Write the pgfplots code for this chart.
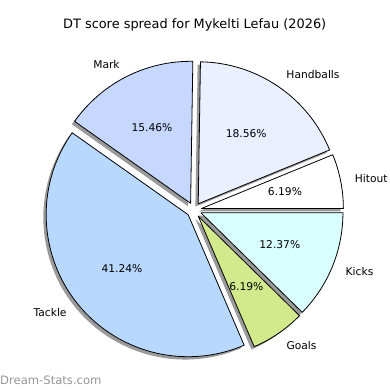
\documentclass[border=0pt]{standalone}
\usepackage{fontspec}
\setmainfont{DejaVu Sans}
\usepackage{pgfplots}
\pgfplotsset{compat=1.18}
\definecolor{cHit}{HTML}{FFFFFF}
\definecolor{cHand}{HTML}{EAF0FF}
\definecolor{cMark}{HTML}{C6D8FF}
\definecolor{cTack}{HTML}{B8D8FF}
\definecolor{cGoal}{HTML}{D2EA8C}
\definecolor{cKick}{HTML}{D9FFFF}
\definecolor{shad}{HTML}{9A9A9A}
\definecolor{wm}{HTML}{969696}
\def\cx{194}\def\cy{180}
\def\R{142}\def\E{7.5}\def\S{2.84}
\newcommand\lbl{\fontsize{10.7bp}{12.8bp}\selectfont}
\begin{document}
\begin{tikzpicture}
\begin{axis}[x=1bp,y=1bp,xmin=0,xmax=390,ymin=0,ymax=390,hide axis,clip=false,anchor=origin,at={(0,0)}]
\path (axis cs:0,0) rectangle (axis cs:390,390);
% shadows
\gdef\cum{0}
\foreach \lab/\pct/\col in {Hitout/6.19/cHit, Handballs/18.56/cHand, Mark/15.46/cMark, Tackle/41.24/cTack, Goals/6.19/cGoal, Kicks/12.37/cKick}{
  \pgfmathsetmacro\s{\cum}
  \pgfmathsetmacro\e{\cum+3.6*\pct}
  \xdef\cum{\e}
  \pgfmathsetmacro\m{(\s+\e)/2}
  \pgfmathsetmacro\X{\cx+\E*cos(\m)-\S}
  \pgfmathsetmacro\Y{\cy+\E*sin(\m)-\S}
  \edef\doit{\noexpand\fill[shad] (axis cs:\X,\Y) -- ++(\s:\R bp) arc[start angle=\s,end angle=\e,radius=\R bp] -- cycle;}
  \doit
}
% wedges
\gdef\cum{0}
\foreach \lab/\pct/\col in {Hitout/6.19/cHit, Handballs/18.56/cHand, Mark/15.46/cMark, Tackle/41.24/cTack, Goals/6.19/cGoal, Kicks/12.37/cKick}{
  \pgfmathsetmacro\s{\cum}
  \pgfmathsetmacro\e{\cum+3.6*\pct}
  \xdef\cum{\e}
  \pgfmathsetmacro\m{(\s+\e)/2}
  \pgfmathsetmacro\X{\cx+\E*cos(\m)}
  \pgfmathsetmacro\Y{\cy+\E*sin(\m)}
  \pgfmathsetmacro\LX{\X+1.1*\R*cos(\m)}
  \pgfmathsetmacro\LY{\Y+1.1*\R*sin(\m)}
  \pgfmathsetmacro\PX{\X+0.6*\R*cos(\m)}
  \pgfmathsetmacro\PY{\Y+0.6*\R*sin(\m)}
  \pgfmathtruncatemacro\isright{cos(\m)>0}
  \ifnum\isright=1 \def\anc{west}\else\def\anc{east}\fi
  \edef\doit{\noexpand\filldraw[fill=\col,draw=black,line width=0.8bp,line join=round] (axis cs:\X,\Y) -- ++(\s:\R bp) arc[start angle=\s,end angle=\e,radius=\R bp] -- cycle;
    \noexpand\node[anchor=\anc,inner sep=0pt,font=\noexpand\lbl] at (axis cs:\LX,\LY) {\lab};
    \noexpand\node[anchor=center,inner sep=0pt,font=\noexpand\lbl] at (axis cs:\PX,\PY) {\pct\%};}
  \doit
}
\node[font=\fontsize{12.9bp}{15bp}\selectfont,inner sep=0pt] at (axis cs:194.7,365) {DT score spread for Mykelti Lefau (2026)};
\node[anchor=west,inner sep=0pt,text=wm,font=\fontsize{11.6bp}{14bp}\selectfont] at (axis cs:0,10) {Dream-Stats.com};
\end{axis}
\end{tikzpicture}
\end{document}
